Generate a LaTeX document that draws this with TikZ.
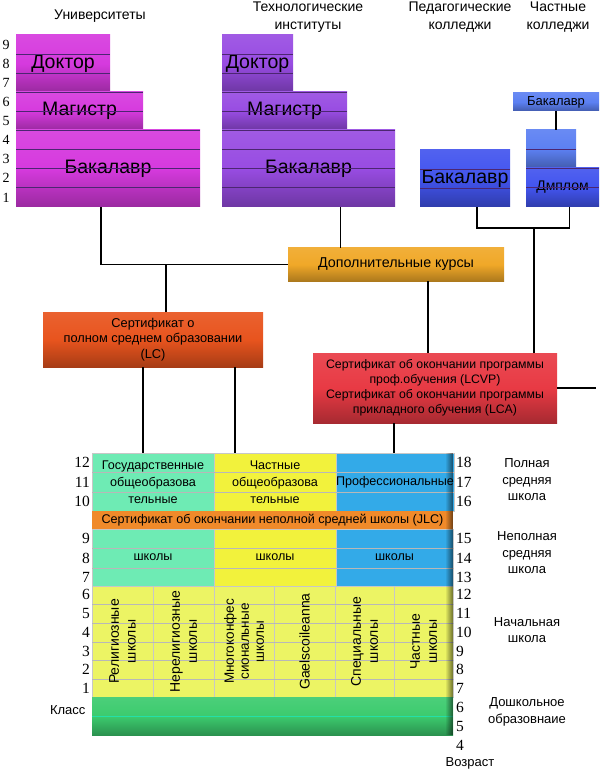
\documentclass[tikz,border=0pt]{standalone}
\usepackage{fontspec}
\setmainfont{Liberation Sans}
\newfontfamily\edunumfont{Liberation Serif}
\usepackage{tikz}
\usetikzlibrary{calc,fadings}
\definecolor{edumagenta}{RGB}{214,58,222}
\definecolor{edupurple}{RGB}{152,76,226}
\definecolor{edublue}{RGB}{66,84,238}
\definecolor{edusky}{RGB}{92,128,242}
\definecolor{edugold}{RGB}{240,168,40}
\definecolor{eduorange}{RGB}{232,84,30}
\definecolor{edured}{RGB}{232,58,68}
\definecolor{edumint}{RGB}{110,235,180}
\definecolor{eduyellow}{RGB}{242,242,60}
\definecolor{educyan}{RGB}{51,170,232}
\definecolor{edujlc}{RGB}{240,138,42}
\definecolor{edulime}{RGB}{236,244,100}
\definecolor{edugreen}{RGB}{60,203,110}
\tikzset{
  edustage/.style={
    anchor=north west,
    inner sep=0pt,
    outer sep=0pt,
    align=center
  },
  edushade/.style={top color=#1!92!white,bottom color=#1!72!black,middle color=#1},
  edudeg/.style={edustage,edushade=#1,font=\fontsize{19.5}{22}\selectfont},
  edusmall/.style={edustage,edushade=#1,font=\fontsize{13}{16}\selectfont},
  educert/.style={edustage,edushade=#1,font=\fontsize{12.3}{15}\selectfont},
  edurule/.style={line width=0.7pt,#1!50!black},
  edutab/.style={edustage,fill=#1,draw=black!22,line width=0.4pt,
                 font=\fontsize{12.6}{16.8}\selectfont},
  edugrid/.style={line width=0.4pt,black!28},
  edurot/.style={rotate=90,align=center,inner sep=0pt,
                 font=\fontsize{14}{17}\selectfont},
  edutitle/.style={align=center,font=\fontsize{14}{18}\selectfont},
  edulabel/.style={align=center,font=\fontsize{13}{16.5}\selectfont},
  edunum/.style={inner sep=0pt,font=\edunumfont\fontsize{15.5}{15.5}\selectfont},
  eduline/.style={line width=1.6pt,black}
}
\begin{document}
\begin{tikzpicture}[x=1pt,y=-1pt]
  \useasboundingbox (0,0) rectangle (600,775);

  % institutions
  \node[edutitle] (tuni) at (100,16) {Университеты};
  \node[edutitle] (ttech) at (308,17) {Технологические\\институты};
  \node[edutitle] (tped) at (460,17) {Педагогические\\колледжи};
  \node[edutitle] (tpriv) at (558,17) {Частные\\колледжи};

  \node[edudeg=edumagenta,minimum width=94pt,minimum height=57pt] (udok) at (16,35) {Доктор};
  \node[edudeg=edumagenta,minimum width=127pt,minimum height=38pt] (umag) at (16,92) {Магистр};
  \node[edudeg=edumagenta,minimum width=184pt,minimum height=77pt] (ubak) at (16,130) {Бакалавр};

  \node[edudeg=edupurple,minimum width=71pt,minimum height=57pt] (tdok) at (222,35) {Доктор};
  \node[edudeg=edupurple,minimum width=125pt,minimum height=38pt] (tmag) at (222,92) {Магистр};
  \node[edudeg=edupurple,minimum width=173pt,minimum height=77pt] (tbak) at (222,130) {Бакалавр};

  \node[edudeg=edublue,minimum width=90pt,minimum height=57pt] (pedbak) at (420,150) {Бакалавр};

  \node[edusmall=edusky,minimum width=86pt,minimum height=18pt] (ptop) at (513,93) {Бакалавр};
  \node[edusmall=edusky,minimum width=50pt,minimum height=38pt] (pup) at (526,130) {};
  \node[edusmall=edublue,minimum width=73pt,minimum height=39pt,font=\fontsize{14}{16}\selectfont]
    (pdip) at (526,168) {Дмплом};

  \foreach \blk/\n/\s in {udok/3/1,umag/2/0,ubak/4/0,tdok/3/1,tmag/2/0,tbak/4/0,
                          pedbak/3/1,pup/2/1,pdip/2/0}{
    \pgfmathtruncatemacro\last{\n-1}
    \foreach \k in {\s,...,\last}
      \draw[edurule=edupurple]
        ($(\blk.north west)!\k/\n!(\blk.south west)$) --
        ($(\blk.north east)!\k/\n!(\blk.south east)$);
  }

  \foreach \g in {1,...,9}
    \node[edunum,font=\edunumfont\fontsize{14}{14}\selectfont] (ulev\g) at (6,{207-19.1*(\g-0.5)}) {\g};

  % certificates
  \node[edusmall=edugold,minimum width=216pt,minimum height=33pt,font=\fontsize{14.3}{16}\selectfont]
    (dop) at (288,248) {Дополнительные курсы};
  \node[educert=eduorange,minimum width=220pt,minimum height=55pt,font=\fontsize{12.8}{15.5}\selectfont]
    (lc) at (43,312) {Сертификат о\\полном среднем образовании\\(LC)};
  \node[educert=edured,minimum width=244pt,minimum height=70pt] (red) at (313,353)
    {Сертификат об окончании программы\\проф.обучения (LCVP)\\
     Сертификат об окончании программы\\прикладного обучения (LCA)};

  % schools
  \node[edutab=edumint,minimum width=122pt,minimum height=58pt] (gosup) at (92,453)
    {Государственные\\общеобразова\\тельные};
  \node[edutab=eduyellow,minimum width=122pt,minimum height=58pt] (chup) at (214,453)
    {Частные\\общеобразова\\тельные};
  \node[edutab=educyan,minimum width=117pt,minimum height=58pt] (profup) at (336,453)
    {Профессиональные};
  \node[edutab=edumint,minimum width=122pt,minimum height=57pt] (gosdown) at (92,529) {школы};
  \node[edutab=eduyellow,minimum width=122pt,minimum height=57pt] (chdown) at (214,529) {школы};
  \node[edutab=educyan,minimum width=117pt,minimum height=57pt] (profdown) at (336,529) {школы};
  \node[edutab=edujlc,draw=none,minimum width=361pt,minimum height=18pt] (jlc) at (92,511)
    {Сертификат об окончании неполной средней школы (JLC)};

  \foreach \col/\x/\w in {rel/92/61,nrel/153/61,multi/214/60,gael/274/61,spec/335/59,privs/394/59}
    \node[edutab=edulime,minimum width=\w pt,minimum height=111pt] (\col) at (\x,586) {};
  \node[edutab=edugreen,edushade=edugreen,draw=none,minimum width=361pt,minimum height=38pt]
    (pre) at (92,697) {};

  \foreach \y in {472,492,548,568,604.5,623,642,660.5,679}
    \draw[edugrid] (gosup.west |- 0,\y) -- (profup.east |- 0,\y);
  \draw[edugrid,draw=edugreen!60!cyan] (pre.west) -- (pre.east);
  \fill[black,opacity=0.55,path fading=west] ([xshift=-9pt]profup.north east) rectangle (pre.south east);

  \node[edurot] (trel) at (rel.center) {Религиозные\\школы};
  \node[edurot] (tnrel) at (nrel.center) {Нерелигиозные\\школы};
  \node[edurot,font=\fontsize{13.5}{15}\selectfont] (tmulti) at (multi.center) {Многоконфес\\сиональные\\школы};
  \node[edurot] (tgael) at (gael.center) {Gaelscoileanna};
  \node[edurot] (tspec) at (spec.center) {Специальные\\школы};
  \node[edurot] (tprivs) at (privs.center) {Частные\\школы};

  % grades and ages
  \foreach \g/\y in {12/462.5,11/482,10/501.5,9/538.5,8/558,7/577,6/594,5/613,4/632,3/651,2/669,1/688}
    \node[edunum,anchor=east] (grade\g) at (90,\y) {\g};
  \node[edulabel,anchor=east] (tgrade) at (89,710) {Класс};
  \foreach \a/\y in {18/462.5,17/482,16/501.5,15/538.5,14/558,13/577,12/594,11/613,10/632,
                     9/651,8/669,7/688,6/707,5/726,4/745}
    \node[edunum,anchor=west] (age\a) at (456,\y) {\a};
  \node[edulabel] (tage) at (470,763) {Возраст};

  \node[edulabel] (lsenior) at (527,480) {Полная\\средняя\\школа};
  \node[edulabel] (ljunior) at (527,553) {Неполная\\средняя\\школа};
  \node[edulabel] (lprimary) at (527,630) {Начальная\\школа};
  \node[edulabel] (lpre) at (527,712) {Дошкольное\\образовнаие};

  % connectors
  \draw[eduline] ([xshift=-7pt]ubak.south) |- (dop.west);
  \draw[eduline] ([xshift=13pt]lc.north) -- ([xshift=13pt]lc.north |- dop.west);
  \draw[eduline] ([xshift=32pt]tbak.south) -- ([xshift=32pt]tbak.south |- dop.north);
  \coordinate (coljoin) at (534,228);
  \draw[eduline] ([xshift=12pt]pedbak.south) |- (coljoin) -| ([xshift=7pt]pdip.south);
  \draw[eduline] (coljoin) -- (coljoin |- red.north);
  \draw[eduline] (ptop.south) -- (ptop.south |- pup.north);
  \draw[eduline] ([xshift=32pt]dop.south) -- ([xshift=32pt]dop.south |- red.north);
  \coordinate (redout) at (596,388);
  \draw[eduline] (red.east) -- (redout);
  \draw[eduline] ([xshift=-10pt]lc.south) -- ([xshift=-10pt]lc.south |- gosup.north);
  \draw[eduline] ([xshift=82pt]lc.south) -- ([xshift=82pt]lc.south |- chup.north);
  \draw[eduline] ([xshift=-41pt]red.south) -- ([xshift=-41pt]red.south |- profup.north);
\end{tikzpicture}
\end{document}
